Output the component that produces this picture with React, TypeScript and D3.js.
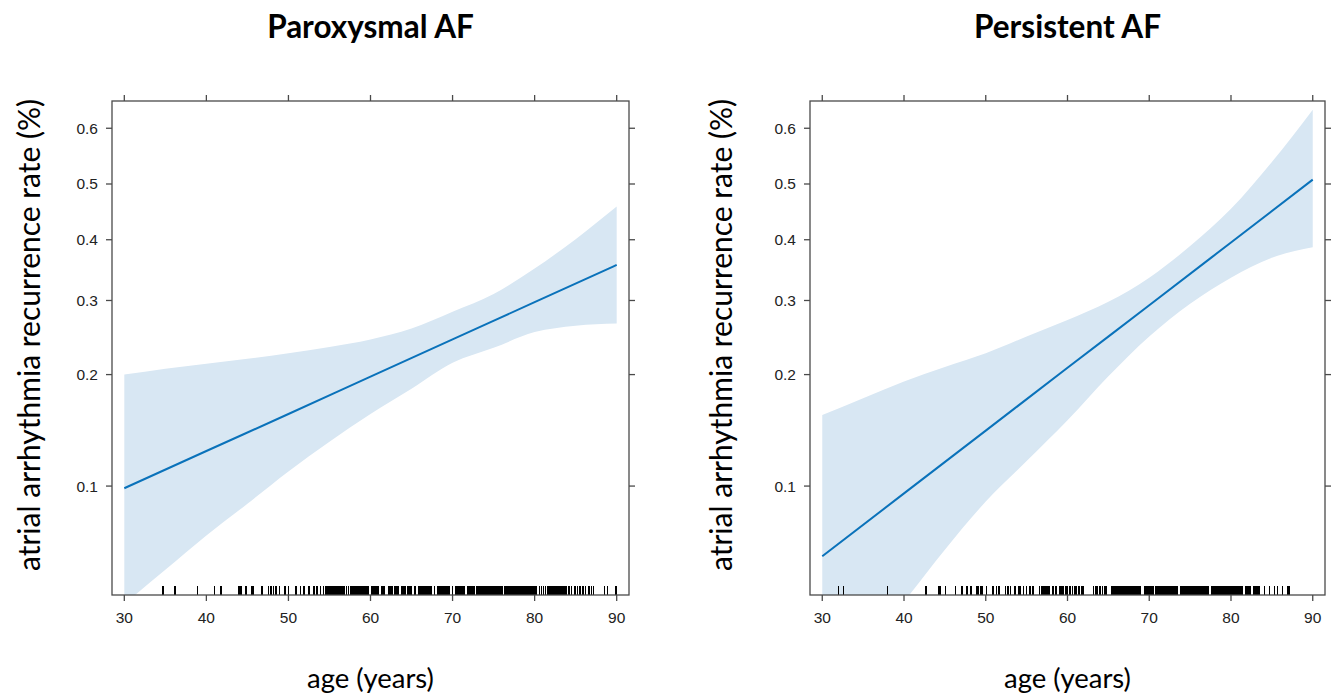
import React from 'react';
import * as d3 from 'd3';

// ---------- data ----------
const ageTicks = [30, 40, 50, 60, 70, 80, 90];
const rateTicks = [0.1, 0.2, 0.3, 0.4, 0.5, 0.6];
const fitAges = [30, 40, 50, 60, 70, 80, 90];
const bandAges = [30, 35, 40, 45, 50, 55, 60, 65, 70, 75, 80, 85, 90];

const parFit = [0.0986, 0.1254, 0.158, 0.1976, 0.2441, 0.2974, 0.357];
const parUpper = [0.2, 0.207, 0.213, 0.219, 0.226, 0.234, 0.244, 0.259, 0.283, 0.31, 0.351, 0.401, 0.459];
const parLower = [0.045, 0.057, 0.072, 0.089, 0.11, 0.133, 0.158, 0.184, 0.214, 0.233, 0.254, 0.263, 0.266];

const perFit = [0.0625, 0.0953, 0.1426, 0.208, 0.2928, 0.3953, 0.508];
const perUpper = [0.157, 0.174, 0.192, 0.209, 0.226, 0.248, 0.271, 0.298, 0.336, 0.389, 0.455, 0.54, 0.632];
const perLower = [0.0219, 0.0317, 0.0457, 0.0654, 0.0903, 0.1176, 0.152, 0.198, 0.248, 0.295, 0.336, 0.369, 0.387];

const parRug = [
  34.7, 36.2, 38.9, 41.0, 41.8, 43.9, 44.1, 44.3, 44.8, 45.5, 45.7, 46.8, 47.6, 47.9, 48.2, 48.5, 48.9,
  49.6, 50.0, 50.9, 51.5, 51.9, 52.5, 53.1, 53.5, 53.9,
  54.3, 54.55, 54.8, 55.05, 55.3, 55.55, 55.8, 56.05, 56.3, 56.55, 56.8, 57.05, 57.3,
  57.6, 57.75, 57.9, 58.05, 58.2, 58.35, 58.5, 58.65, 58.8, 58.95, 59.1, 59.25, 59.4, 59.55, 59.7, 60.2,
  60.35, 60.5, 60.65, 60.8, 60.95, 61.4, 61.55, 61.7, 62.2, 62.35, 62.5, 62.6, 63.0, 63.15, 63.3, 63.4,
  63.8, 63.95, 64.1, 64.2, 64.6, 64.75, 64.9, 65.0, 65.4, 65.85, 66.0, 66.15, 66.3, 66.45, 66.6, 66.75,
  66.9, 67.05, 67.2, 67.35, 67.45, 67.8, 68.2, 68.35, 68.5, 68.65, 68.8, 68.95, 69.1, 69.25, 69.4,
  69.55, 69.65, 70.0, 70.4, 70.55, 70.7, 70.85, 71.0, 71.15, 71.3, 71.45, 71.8, 71.95, 72.1, 72.25,
  72.4, 72.55, 72.65, 73.0, 73.15, 73.3, 73.45, 73.6, 73.75, 73.9, 74.05, 74.2, 74.35, 74.5, 74.65,
  74.8, 74.95, 75.1, 75.25, 75.4, 75.55, 75.7, 75.85, 76.0, 76.4, 76.55, 76.7, 76.85, 77.0, 77.15,
  77.3, 77.45, 77.6, 77.75, 77.9, 78.05, 78.2, 78.35, 78.5, 78.65, 78.8, 78.95, 79.1, 79.25, 79.4,
  79.55, 79.7, 79.85, 80.0, 80.15, 80.6, 80.85, 81.1, 81.35, 81.6, 81.85, 82.1, 82.35, 82.6, 82.85,
  83.1, 83.35, 83.6, 83.85, 84.2, 84.5, 84.9, 85.2, 85.5, 85.9, 86.2, 86.6, 86.9, 87.2, 88.5, 88.9, 89.9,
];

const perRug = [
  32.0, 32.6, 38.0, 42.7, 44.2, 44.4, 45.1, 46.3, 47.1, 47.7, 48.2, 48.9, 49.1, 49.4, 49.6, 50.1, 50.9,
  51.3, 51.6, 52.4, 52.7, 53.0, 53.6, 54.0, 54.2, 54.6, 55.0, 55.4, 55.8, 56.6, 56.8, 57.0, 57.2, 57.4,
  57.6, 57.8, 58.2, 58.6, 59.1, 59.3, 59.5, 59.8, 60.0, 60.3, 60.6, 60.9, 61.1, 61.4, 61.7, 61.9,
  63.2, 63.5, 63.7, 64.0, 64.3, 64.6, 64.8,
  65.4, 65.55, 65.7, 65.85, 66.0, 66.15, 66.3, 66.45, 66.6, 66.75, 66.9, 67.05, 67.2, 67.35, 67.5,
  67.65, 67.8, 67.95, 68.1, 68.25, 68.4, 68.55, 68.7, 68.85, 68.95, 69.45, 69.6, 69.75, 69.9, 70.05,
  70.2, 70.35, 70.45, 70.85, 71.0, 71.15, 71.3, 71.45, 71.6, 71.75, 71.9, 72.05, 72.2, 72.35, 72.5,
  72.65, 72.8, 72.95, 73.1, 73.25, 73.4, 73.85, 74.0, 74.15, 74.3, 74.45, 74.6, 74.75, 74.9, 75.05,
  75.2, 75.35, 75.5, 75.65, 75.8, 75.95, 76.1, 76.25, 76.4, 76.55, 76.7, 76.85, 77.0, 77.15, 77.25,
  77.65, 77.8, 77.95, 78.1, 78.25, 78.4, 78.55, 78.7, 78.85, 79.0, 79.15, 79.3, 79.45, 79.6, 79.75,
  79.9, 80.05, 80.2, 80.35, 80.5, 80.65, 80.8, 80.95, 81.1, 81.25, 81.4, 81.8, 81.95, 82.1, 82.25,
  82.4, 82.8, 82.95, 83.1, 83.25, 83.4, 84.1, 84.7, 85.3, 85.7, 86.3, 86.9, 87.1,
];

const titles = ['Paroxysmal AF', 'Persistent AF'];
const yTitle = 'atrial arrhythmia recurrence rate (%)';
const xTitle = 'age (years)';

// ---------- layout ----------
const W = 1338;
const H = 695;
const boxTop = 101;
const boxBottom = 595;
const ageDomain = [28.5, 91.5];
const rateDomain = [0.0479, 0.6465];
const logit = (p: number) => Math.log(p / (1 - p));

const AXIS = '#4a4a4a';
const LINE = '#0a72ba';
const BAND = '#d8e7f3';
const TICKTXT = '#222';
const TITLE_FONT = "Lato, 'Open Sans', sans-serif";
const TICK_FONT = "'Liberation Sans', Arial, sans-serif";

type PanelProps = {
  id: string;
  x0: number;
  x1: number;
  title: string;
  fit: number[];
  upper: number[];
  lower: number[];
  rug: number[];
  yTitleX: number;
};

function Panel({ id, x0, x1, title, fit, upper, lower, rug, yTitleX }: PanelProps) {
  const x = d3.scaleLinear().domain(ageDomain).range([x0, x1]);
  const yl = d3.scaleLinear().domain(rateDomain.map(logit)).range([boxBottom, boxTop]);
  const y = (p: number) => yl(logit(p));

  const area = d3
    .area<number>()
    .x((_, i) => x(bandAges[i]))
    .y0((_, i) => y(lower[i]))
    .y1((_, i) => y(upper[i]))
    .curve(d3.curveMonotoneX);
  const line = d3
    .line<number>()
    .x((_, i) => x(fitAges[i]))
    .y((d) => y(d))
    .curve(d3.curveMonotoneX);

  const cx = (x0 + x1) / 2;
  const tick = 6;
  return (
    <g>
      <defs>
        <clipPath id={id}>
          <rect x={x0} y={boxTop} width={x1 - x0} height={boxBottom - boxTop} />
        </clipPath>
      </defs>
      <text x={x(60)} y={38} textAnchor="middle" fontFamily={TITLE_FONT} fontWeight={700} fontSize={31.5} fill="#000">
        {title}
      </text>
      <g clipPath={`url(#${id})`}>
        <path d={area(bandAges) || ''} fill={BAND} />
        <path d={line(fit) || ''} fill="none" stroke={LINE} strokeWidth={2} />
      </g>
      <g shapeRendering="crispEdges">
        {rug.map((a, i) => (
          <line key={i} x1={x(a)} x2={x(a)} y1={boxBottom} y2={boxBottom - 9.5} stroke="#000" strokeWidth={1.5} />
        ))}
      </g>
      <rect x={x0} y={boxTop} width={x1 - x0} height={boxBottom - boxTop} fill="none" stroke={AXIS} strokeWidth={1.3} />
      {ageTicks.map((t) => (
        <g key={t}>
          <line x1={x(t)} x2={x(t)} y1={boxBottom} y2={boxBottom + tick} stroke={AXIS} strokeWidth={1.3} />
          <line x1={x(t)} x2={x(t)} y1={boxTop} y2={boxTop - tick} stroke={AXIS} strokeWidth={1.3} />
          <text
            x={x(t)}
            y={boxBottom + 22}
            textAnchor="middle"
            dominantBaseline="central"
            fontFamily={TICK_FONT}
            fontSize={15.5}
            fill={TICKTXT}
          >
            {t}
          </text>
        </g>
      ))}
      {rateTicks.map((t) => (
        <g key={t}>
          <line x1={x0} x2={x0 - tick} y1={y(t)} y2={y(t)} stroke={AXIS} strokeWidth={1.3} />
          <line x1={x1} x2={x1 + tick} y1={y(t)} y2={y(t)} stroke={AXIS} strokeWidth={1.3} />
          <text
            x={x0 - 14}
            y={y(t)}
            textAnchor="end"
            dominantBaseline="central"
            fontFamily={TICK_FONT}
            fontSize={15.5}
            fill={TICKTXT}
          >
            {t}
          </text>
        </g>
      ))}
      <text x={cx} y={688} textAnchor="middle" fontFamily={TITLE_FONT} fontSize={27.5} fill="#000">
        {xTitle}
      </text>
      <text
        transform={`translate(${yTitleX},${335}) rotate(-90)`}
        textAnchor="middle"
        dominantBaseline="central"
        fontFamily={TITLE_FONT}
        fontSize={30}
        fill="#000"
      >
        {yTitle}
      </text>
    </g>
  );
}

export default function App() {
  return (
    <div style={{ position: 'absolute', left: 0, top: 0 }}>
      <svg width={W} height={H} style={{ display: 'block', background: '#fff' }}>
        <Panel id="clipL" x0={112} x1={629} title={titles[0]} fit={parFit} upper={parUpper} lower={parLower} rug={parRug} yTitleX={28} />
        <Panel id="clipR" x0={810} x1={1325} title={titles[1]} fit={perFit} upper={perUpper} lower={perLower} rug={perRug} yTitleX={720} />
      </svg>
    </div>
  );
}
